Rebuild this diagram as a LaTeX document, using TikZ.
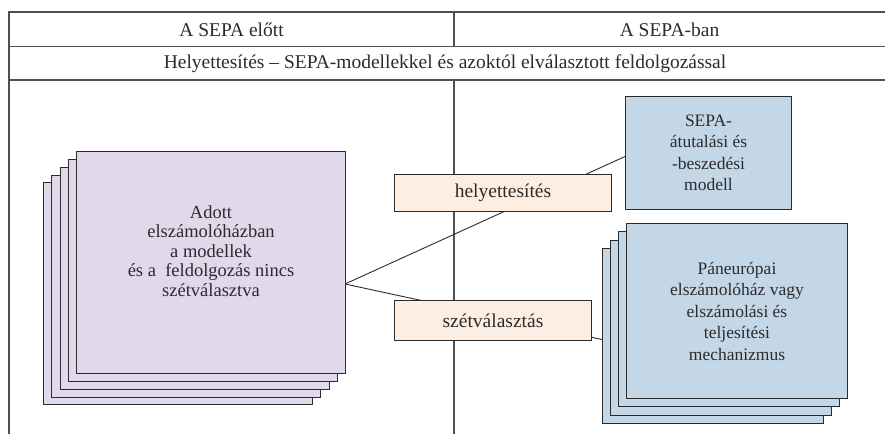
\documentclass[tikz,border=0pt]{standalone}
\usepackage{fontspec}
\setmainfont{Liberation Serif}
\definecolor{purplec}{HTML}{E1D9EB}
\definecolor{bluec}{HTML}{C4D7E7}
\definecolor{peachc}{HTML}{FDEEE3}
\definecolor{linec}{HTML}{2B2B2B}
\definecolor{tabc}{HTML}{505050}
\begin{document}
\begin{tikzpicture}[x=1pt,y=-1pt,
  tab/.style={draw=tabc, line width=1.1pt},
  conn/.style={draw=linec, line width=0.9pt},
  txt/.style={font=\fontsize{19.5}{22}\selectfont, text=linec, inner sep=0pt},
  boxbase/.style={draw=linec, line width=1pt, inner sep=0pt, align=center,
    font=\fontsize{17.5}{21.5}\selectfont, text=linec, anchor=north west},
  purpbox/.style={boxbase, fill=purplec, minimum width=269pt, minimum height=222pt},
  panbox/.style={boxbase, fill=bluec, minimum width=221pt, minimum height=175pt},
  sepabox/.style={boxbase, fill=bluec, minimum width=166pt, minimum height=113pt},
  lblbox/.style={boxbase, fill=peachc, minimum height=37pt, font=\fontsize{19.5}{22}\selectfont}
]
\useasboundingbox (0,0) rectangle (885,434);
% table
\draw[tab] (9,434) -- (9,12) -- (885,12);
\draw[tab] (9,46.7) -- (885,46.7);
\draw[tab] (9,80) -- (885,80);
\draw[tab] (454,12) -- (454,46.7);
\draw[tab] (454,80) -- (454,434);
\node[txt] (h1) at (231.5,30) {A SEPA előtt};
\node[txt] (h2) at (669.5,30) {A SEPA-ban};
\node[txt] (h3) at (445,63.5) {Helyettesítés – SEPA-modellekkel és azoktól elválasztott feldolgozással};
% connector junction
\coordinate (j) at (345,284);
\node[sepabox] (sepa) at (625,96) {SEPA-\\átutalási és\\-beszedési\\modell};
\node[panbox] (pan3) at (602,248) {};
\draw[conn] (j) -- ([yshift=-3.5pt]sepa.west);
\draw[conn] (j) -- ([yshift=-3.5pt]pan3.west);
% left stack
\node[purpbox] (a4) at (43,182.4) {};
\node[purpbox] (a3) at (51.25,174.6) {};
\node[purpbox] (a2) at (59.5,166.8) {};
\node[purpbox] (a1) at (67.75,158.9) {};
\node[purpbox] (adott) at (76,151) {};
\node[align=center, inner sep=0pt, text=linec, font=\fontsize{18.5}{19.5}\selectfont] (adotttxt) at ([yshift=11.5pt]adott.center) {Adott\\elszámolóházban\\a modellek\\és a~ feldolgozás nincs\\szétválasztva};
% right stack
\node[panbox] (pan2) at (610,239.7) {};
\node[panbox] (pan1) at (618,231.3) {};
\node[panbox] (pan) at (626,223) {Páneurópai\\elszámolóház vagy\\elszámolási és\\teljesítési\\mechanizmus};
% label boxes
\node[lblbox, minimum width=217pt] (helyet) at (394,174) {helyettesítés};
\node[lblbox, minimum width=197pt, minimum height=40pt] (szet) at (394,300) {szétválasztás};
\end{tikzpicture}
\end{document}
